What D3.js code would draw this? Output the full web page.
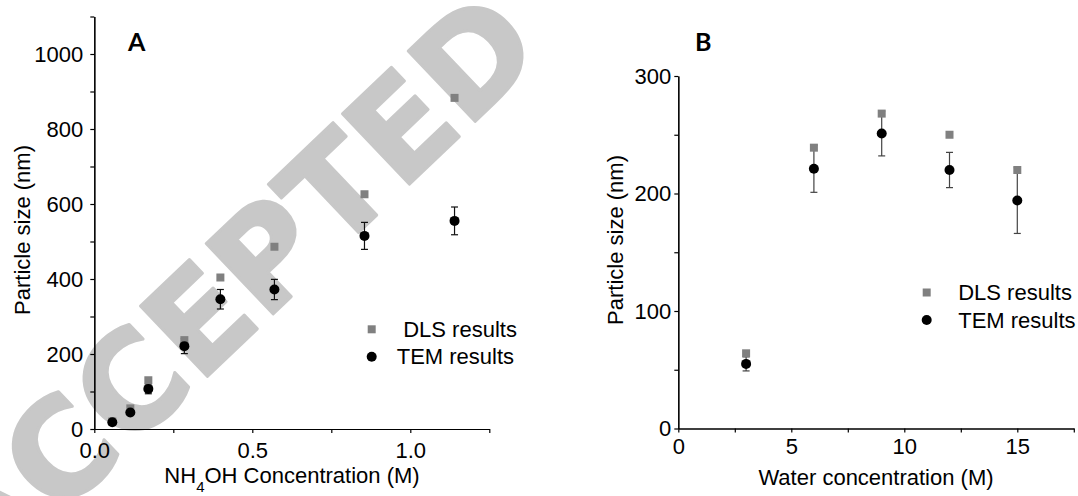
<!DOCTYPE html>
<html>
<head>
<meta charset="utf-8">
<script src="https://cdn.jsdelivr.net/npm/d3@7"></script>
<style>
  body { margin: 0; background: #fff; }
  svg text { font-family: "Liberation Sans", Arial, sans-serif; }
  .axis path, .axis line { stroke: #000; stroke-width: 1.2px; }
  .axis text { font-size: 22px; fill: #000; font-family: "Liberation Sans", Arial, sans-serif; }
</style>
</head>
<body>
<svg id="chart"></svg>
<script>
// Panel A: particle size vs NH4OH concentration
var nh4ohConc = [0.057, 0.114, 0.171, 0.285, 0.399, 0.57, 0.855, 1.14];
var dlsA = [20, 55, 130, 237, 404, 486, 626, 883];
var temA = [18, 44, 107, 221, 346, 372, 515, 555];
var temErrA = [4, 5, 13, 20, 26, 27, 36, 37];

// Panel B: particle size vs water concentration
var waterConc = [3, 6, 9, 12, 15];
var dlsB = [64, 239, 268, 250, 220];
var temB = [55, 221, 251, 220, 194];
var temErrB = [6, 20, 19, 15, 28];

var yTicksA = [0, 200, 400, 600, 800, 1000];
var yMinorA = [100, 300, 500, 700, 900, 1100];
var xTicksA = [0, 0.5, 1.0];
var xMinorA = [0.25, 0.75, 1.25];
var yTicksB = [0, 100, 200, 300];
var yMinorB = [50, 150, 250];
var xTicksB = [0, 5, 10, 15];
var xMinorB = [2.5, 7.5, 12.5, 17.5];

var legendLabels = ["DLS results", "TEM results"];

var width = 1078, height = 496;

var svg = d3.select("#chart")
  .attr("width", width)
  .attr("height", height)
  .attr("viewBox", [0, 0, width, height]);

// watermark behind everything
svg.append("text")
  .attr("transform", "translate(231,287) rotate(-43.6)")
  .attr("text-anchor", "middle")
  .attr("dy", "0.364em")
  .style("font-family", "'DejaVu Sans', sans-serif")
  .style("font-size", "133px")
  .style("font-weight", "bold")
  .style("fill", "#c8c8c8")
  .style("stroke", "#c8c8c8")
  .style("stroke-width", "3px")
  .style("stroke-linejoin", "round")
  .text("ACCEPTED");

function drawPanel(p) {
  var g = svg.append("g");

  // minor ticks first, then major with labels
  g.append("g").attr("class", "axis")
    .attr("transform", "translate(0," + p.y(0) + ")")
    .call(d3.axisBottom(p.x).tickValues(p.xMinor).tickSize(p.tick).tickSizeOuter(0).tickFormat(""));
  g.append("g").attr("class", "axis")
    .attr("transform", "translate(0," + p.y(0) + ")")
    .call(d3.axisBottom(p.x).tickValues(p.xTicks).tickSize(p.tick).tickSizeOuter(0)
      .tickPadding(p.xPad).tickFormat(p.xFormat));

  g.append("g").attr("class", "axis")
    .attr("transform", "translate(" + p.x(0) + ",0)")
    .call(d3.axisLeft(p.y).tickValues(p.yMinor).tickSize(p.tick).tickSizeOuter(0).tickFormat(""));
  g.append("g").attr("class", "axis")
    .attr("transform", "translate(" + p.x(0) + ",0)")
    .call(d3.axisLeft(p.y).tickValues(p.yTicks).tickSize(p.tick).tickSizeOuter(0)
      .tickPadding(p.yPad).tickFormat(d3.format("d")));

  // error bars on TEM
  var eb = g.append("g").attr("stroke", p.errColor).attr("stroke-width", 1.2);
  p.xs.forEach(function(v, i) {
    var lo = p.y(p.tem[i] - p.err[i]), hi = p.y(p.tem[i] + p.err[i]), cx = p.x(v);
    eb.append("line").attr("x1", cx).attr("x2", cx).attr("y1", lo).attr("y2", hi);
    eb.append("line").attr("x1", cx - 3.5).attr("x2", cx + 3.5).attr("y1", lo).attr("y2", lo);
    eb.append("line").attr("x1", cx - 3.5).attr("x2", cx + 3.5).attr("y1", hi).attr("y2", hi);
  });

  g.append("g").selectAll("rect")
    .data(p.dls)
    .enter().append("rect")
    .attr("x", function(d, i) { return p.x(p.xs[i]) - 4; })
    .attr("y", function(d) { return p.y(d) - 4; })
    .attr("width", 8).attr("height", 8)
    .attr("fill", "#808080");

  g.append("g").selectAll("circle")
    .data(p.tem)
    .enter().append("circle")
    .attr("cx", function(d, i) { return p.x(p.xs[i]); })
    .attr("cy", function(d) { return p.y(d); })
    .attr("r", 5)
    .attr("fill", "#000");

  // legend
  var lg = g.append("g").attr("transform", "translate(" + p.legend[0] + "," + p.legend[1] + ")");
  lg.append("rect").attr("x", -4).attr("y", -4).attr("width", 8).attr("height", 8).attr("fill", "#808080");
  lg.append("circle").attr("cx", 0).attr("cy", 27.5).attr("r", 5).attr("fill", "#000");
  lg.append("text").attr("x", p.legendText[0]).attr("y", 0).attr("dy", "0.35em")
    .style("font-size", "22px").text(legendLabels[0]);
  lg.append("text").attr("x", p.legendText[1]).attr("y", 27.5).attr("dy", "0.35em")
    .style("font-size", "22px").text(legendLabels[1]);

  // titles
  g.append("text")
    .attr("transform", "translate(" + p.yTitle[0] + "," + p.yTitle[1] + ") rotate(-90)")
    .attr("text-anchor", "middle").attr("dy", "0.35em")
    .style("font-size", "22px")
    .text("Particle size (nm)");

  var xt = g.append("text")
    .attr("x", p.xTitle[0]).attr("y", p.xTitle[1])
    .attr("text-anchor", "middle")
    .style("font-size", "22px");
  p.xLabel.forEach(function(part) {
    var t = xt.append("tspan").text(part.t);
    if (part.sub) t.attr("baseline-shift", "sub").style("font-size", "15px");
  });

  g.append("text")
    .attr("x", p.letter[0]).attr("y", p.letter[1])
    .style("font-size", "25px").style("font-weight", "bold")
    .style("font-family", "Lato, 'Liberation Sans', sans-serif")
    .text(p.name);
}

drawPanel({
  name: "A",
  xs: nh4ohConc, dls: dlsA, tem: temA, err: temErrA,
  x: d3.scaleLinear().domain([0, 1.25]).range([94.3, 489.3]),
  y: d3.scaleLinear().domain([0, 1100]).range([429, 16.5]),
  xTicks: xTicksA, xMinor: xMinorA, yTicks: yTicksA, yMinor: yMinorA,
  xFormat: d3.format(".1f"), tick: 4, xPad: 9, yPad: 7,
  errColor: "#111",
  legend: [371.7, 329.3], legendText: [31.5, 25],
  yTitle: [22, 230], xTitle: [292, 483],
  xLabel: [{t: "NH"}, {t: "4", sub: true}, {t: "OH Concentration (M)"}],
  letter: [128, 51]
});

drawPanel({
  name: "B",
  xs: waterConc, dls: dlsB, tem: temB, err: temErrB,
  x: d3.scaleLinear().domain([0, 17.5]).range([678.3, 1073.8]),
  y: d3.scaleLinear().domain([0, 300]).range([428.5, 76]),
  xTicks: xTicksB, xMinor: xMinorB, yTicks: yTicksB, yMinor: yMinorB,
  xFormat: d3.format("d"), tick: 4, xPad: 6, yPad: 3,
  errColor: "#444",
  legend: [926.7, 292.5], legendText: [31.5, 31.5],
  yTitle: [615, 240], xTitle: [876, 485],
  xLabel: [{t: "Water concentration (M)"}],
  letter: [695, 51]
});
</script>
</body>
</html>
